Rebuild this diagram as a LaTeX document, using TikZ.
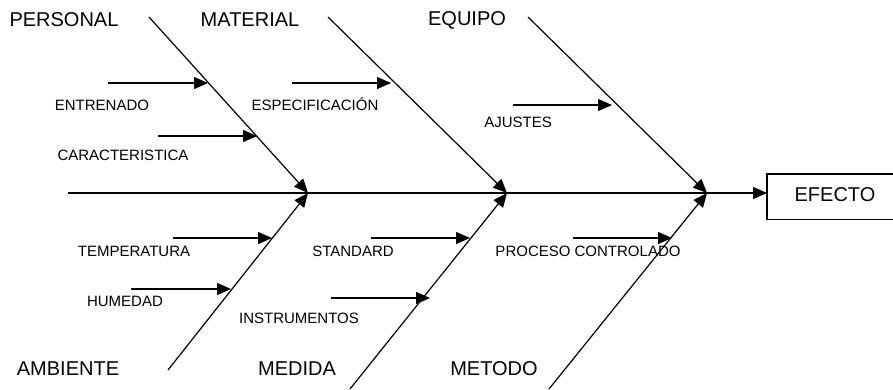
\documentclass[tikz,border=0pt]{standalone}
\usepackage{fontspec}
\setmainfont{Liberation Sans}
\usetikzlibrary{arrows.meta}
\begin{document}
\begin{tikzpicture}[x=1pt,y=-1pt,
  bone/.style={line width=1.2pt},
  arr/.style={line width=1.2pt,-{Triangle[length=14pt,width=12pt]}},
  big/.style={font=\fontsize{20}{23}\selectfont,inner sep=0pt},
  small/.style={font=\fontsize{15}{18}\selectfont,inner sep=0pt},
  effbox/.style={minimum width=170pt,minimum height=45pt,inner sep=0pt},
  boxline/.style={line width=1.2pt}]
\useasboundingbox (0,0) rectangle (893,389);
\clip (0,0) rectangle (893,389);
% junctions
\coordinate (J1) at (308,193);
\coordinate (J2) at (507,193);
\coordinate (J3) at (707,193);
\coordinate (S0) at (68,193);
% bone starts
\coordinate (P0) at (149,17);
\coordinate (M0) at (328,17);
\coordinate (E0) at (528,17);
\coordinate (A0) at (168,370);
\coordinate (D0) at (350,389);
\coordinate (T0) at (549,389);
% effect box (its right side lies beyond the picture's edge)
\node[effbox,anchor=north west] (box) at (767,174) {};
\draw[boxline] (box.north east) -- (box.north west) -- (box.south west) -- (box.south east);
\node[big] (efecto) at (835,195) {EFECTO};
% spine
\draw[bone] (S0) -- (J3);
\draw[arr] (J3) -- (box.west |- J3);
% bones
\draw[arr] (P0) -- (J1);
\draw[arr] (M0) -- (J2);
\draw[arr] (E0) -- (J3);
\draw[arr] (A0) -- (J1);
\draw[arr] (D0) -- (J2);
\draw[arr] (T0) -- (J3);
% sub-cause arrows
\coordinate (e1s) at (108,83);  \coordinate (e1t) at (208,83);
\coordinate (c1s) at (158,136); \coordinate (c1t) at (257,136);
\coordinate (s1s) at (292,83);  \coordinate (s1t) at (391,83);
\coordinate (a1s) at (513,105); \coordinate (a1t) at (612,105);
\coordinate (t1s) at (173,238); \coordinate (t1t) at (272,238);
\coordinate (h1s) at (131,289); \coordinate (h1t) at (231,289);
\coordinate (d1s) at (371,238); \coordinate (d1t) at (470,238);
\coordinate (i1s) at (331,298); \coordinate (i1t) at (430,298);
\coordinate (p1s) at (573,238); \coordinate (p1t) at (672,238);
\draw[arr] (e1s) -- (e1t);
\draw[arr] (c1s) -- (c1t);
\draw[arr] (s1s) -- (s1t);
\draw[arr] (a1s) -- (a1t);
\draw[arr] (t1s) -- (t1t);
\draw[arr] (h1s) -- (h1t);
\draw[arr] (d1s) -- (d1t);
\draw[arr] (i1s) -- (i1t);
\draw[arr] (p1s) -- (p1t);
% big labels
\node[big] (personal) at (64,20) {PERSONAL};
\node[big] (material) at (250,20) {MATERIAL};
\node[big] (equipo) at (467,20) {EQUIPO};
\node[big] (ambiente) at (68,369) {AMBIENTE};
\node[big] (medida) at (297,369) {MEDIDA};
\node[big] (metodo) at (494,369) {METODO};
% small labels
\node[small] (entrenado) at (102,105) {ENTRENADO};
\node[small] (caract) at (123,155) {CARACTERISTICA};
\node[small,anchor=base] (espec) at (315,110.5) {ESPECIFICACIÓN};
\node[small] (ajustes) at (518,122) {AJUSTES};
\node[small] (temp) at (134,251) {TEMPERATURA};
\node[small] (humedad) at (125,301) {HUMEDAD};
\node[small] (standard) at (353,251) {STANDARD};
\node[small] (instr) at (299,318) {INSTRUMENTOS};
\node[small] (proceso) at (588,251) {PROCESO CONTROLADO};
\end{tikzpicture}
\end{document}
